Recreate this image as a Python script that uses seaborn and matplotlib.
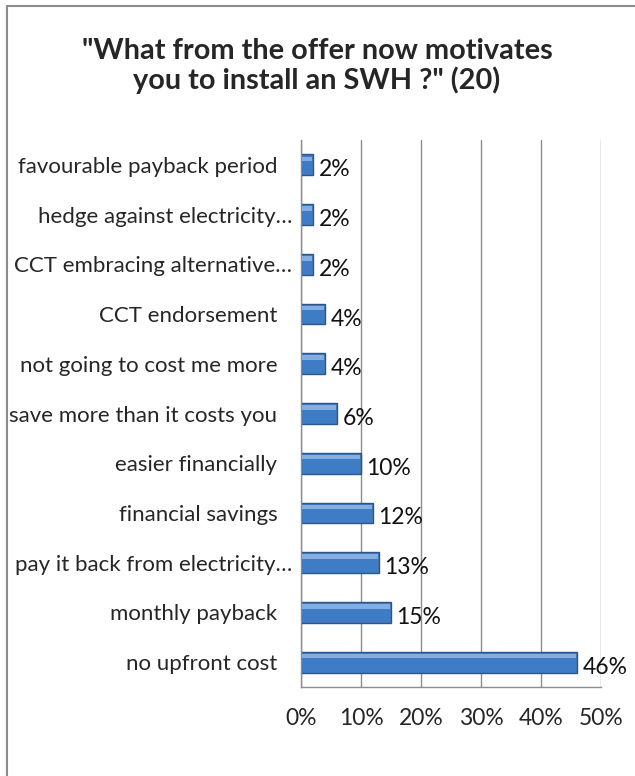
import matplotlib
matplotlib.use("Agg")
import matplotlib.pyplot as plt
import matplotlib.patches as mpatches
import matplotlib.lines as mlines
from matplotlib.transforms import ScaledTranslation
import seaborn as sns
import pandas as pd

categories = [
    "favourable payback period",
    "hedge against electricity\u2026",
    "CCT embracing alternative\u2026",
    "CCT endorsement",
    "not going to cost me more",
    "save more than it costs you",
    "easier financially",
    "financial savings",
    "pay it back from electricity\u2026",
    "monthly payback",
    "no upfront cost",
]
shares = [2, 2, 2, 4, 4, 6, 10, 12, 13, 15, 46]
tick_values = [0, 10, 20, 30, 40, 50]
tick_labels = ["0%", "10%", "20%", "30%", "40%", "50%"]
title = '"What from the offer now motivates\nyou to install an SWH ?" (20)'

df = pd.DataFrame({"reason": categories, "share": shares})

sns.set_style("white")
plt.rcParams["font.family"] = ["Lato", "DejaVu Sans"]

fig = plt.figure(figsize=(6.35, 7.76), dpi=100)

# chart-area frame: top and left edges only
frame_col = "#8c8c8c"
fig.lines.append(mlines.Line2D([7 / 635, 1.0], [1 - 6 / 776, 1 - 6 / 776],
                               transform=fig.transFigure, color=frame_col, linewidth=1.5))
fig.lines.append(mlines.Line2D([7 / 635, 7 / 635], [0.0, 1 - 6 / 776],
                               transform=fig.transFigure, color=frame_col, linewidth=1.5))

ax = fig.add_axes([301 / 635, 1 - 687 / 776, 300 / 635, 547 / 776])
sns.barplot(data=df, y="reason", x="share", orient="h", ax=ax,
            color="#3f7cc6", edgecolor="#2a5688", linewidth=1.0,
            width=0.42, saturation=1)

# lighter top strip gives the bevelled look
for patch in ax.patches:
    x0, y0 = patch.get_x(), patch.get_y()
    w, h = patch.get_width(), patch.get_height()
    ax.add_patch(mpatches.Rectangle((x0 + 0.2, y0 + h * 0.1), max(w - 0.4, 0), h * 0.22,
                                    facecolor="#9cc0ec", edgecolor="none", alpha=0.75, zorder=3))

for i, v in enumerate(shares):
    ax.text(v + 0.9, i + 0.1, f"{v}%", va="center", ha="left", fontsize=16.5, color="#111111")

ax.set_xlim(0, 50)
ax.set_ylim(len(categories) - 0.5, -0.5)
ax.set_xticks(tick_values)
ax.set_xticklabels(tick_labels, fontsize=16.5)
ax.tick_params(axis="x", length=4, color=frame_col, pad=11)
ax.tick_params(axis="y", length=0, pad=17, labelsize=16)
ax.set_xlabel("")
ax.set_ylabel("")
ax.grid(axis="x", color=frame_col, linewidth=1.0)
ax.set_axisbelow(True)
for side in ["top", "right"]:
    ax.spines[side].set_visible(False)
for side in ["left", "bottom"]:
    ax.spines[side].set_color(frame_col)
    ax.spines[side].set_linewidth(1.0)

# truncated category names sit closer to the axis
for lbl in ax.get_yticklabels():
    if lbl.get_text().endswith("\u2026"):
        lbl.set_transform(lbl.get_transform() + ScaledTranslation(0.15, 0, fig.dpi_scale_trans))

fig.text(317 / 635, 1 - 66 / 776, title, ha="center", va="center",
         fontsize=20.8, fontweight="bold", linespacing=1.15)

fig.savefig("out.png", dpi=100)
